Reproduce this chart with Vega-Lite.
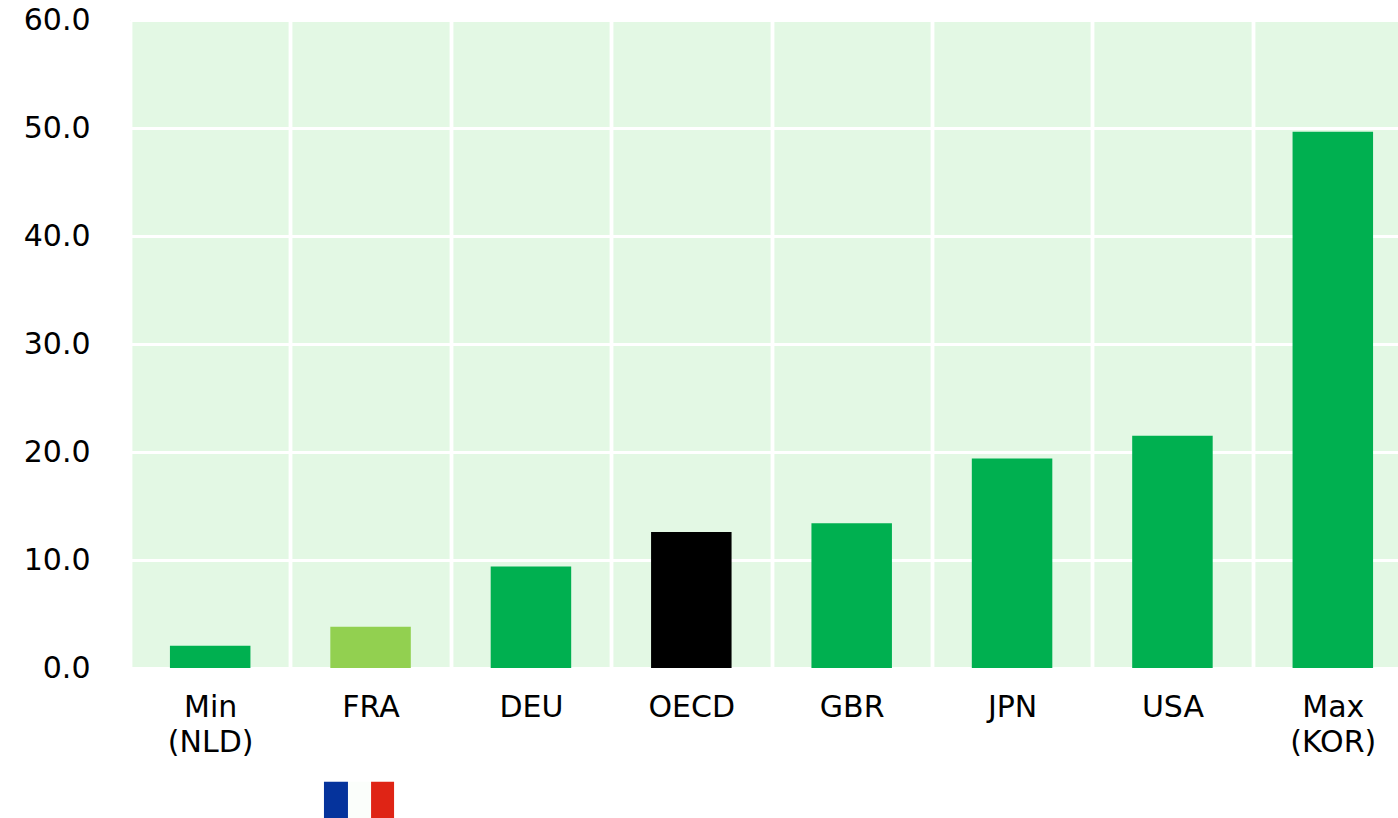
{"$schema":"https://vega.github.io/schema/vega-lite/v6.json","autosize":{"type":"none"},"padding":{"left":130,"top":20,"right":0,"bottom":150},"width":1268,"height":648,"background":"white","view":{"fill":"#E3F8E4","stroke":null},"config":{"font":"DejaVu Sans"},"data":{"values":[{"code":"Min (NLD)","value":2.05,"group":"other"},{"code":"FRA","value":3.82,"group":"fra"},{"code":"DEU","value":9.4,"group":"other"},{"code":"OECD","value":12.6,"group":"oecd"},{"code":"GBR","value":13.4,"group":"other"},{"code":"JPN","value":19.4,"group":"other"},{"code":"USA","value":21.5,"group":"other"},{"code":"Max (KOR)","value":49.66,"group":"other"}]},"encoding":{"x":{"field":"code","type":"nominal","sort":null,"title":null,"scale":{"range":[0,1283],"paddingInner":0,"paddingOuter":0},"axis":{"domain":false,"ticks":false,"grid":true,"gridColor":"white","gridWidth":3.8,"gridOpacity":1,"tickBand":"extent","labelAngle":0,"labelFontSize":30,"labelColor":"#000000","labelPadding":24,"labelLineHeight":35,"labelBaseline":"top","labelAlign":"center","labelExpr":"split(datum.label,' ')","labelLimit":0}}},"layer":[{"mark":{"type":"bar","size":80.5},"encoding":{"y":{"field":"value","type":"quantitative","title":null,"scale":{"domain":[0,60],"nice":false},"axis":{"values":[0,10,20,30,40,50,60],"format":".1f","domain":false,"ticks":false,"grid":true,"gridColor":"white","gridWidth":2.8,"gridOpacity":1,"labelFontSize":30,"labelColor":"#000000","labelPadding":40}},"color":{"field":"group","type":"nominal","legend":null,"scale":{"domain":["other","fra","oecd"],"range":["#00B050","#92D050","#000000"]}}}},{"transform":[{"filter":"datum.code==='FRA'"}],"mark":{"type":"bar","size":24,"xOffset":-34.6,"color":"#05339C","clip":false},"encoding":{"y":{"datum":-10.53},"y2":{"datum":-14.5}}},{"transform":[{"filter":"datum.code==='FRA'"}],"mark":{"type":"bar","size":23,"xOffset":-11,"color":"#FBFEFB","clip":false},"encoding":{"y":{"datum":-10.53},"y2":{"datum":-14.5}}},{"transform":[{"filter":"datum.code==='FRA'"}],"mark":{"type":"bar","size":23,"xOffset":12,"color":"#DF2415","clip":false},"encoding":{"y":{"datum":-10.53},"y2":{"datum":-14.5}}}]}
